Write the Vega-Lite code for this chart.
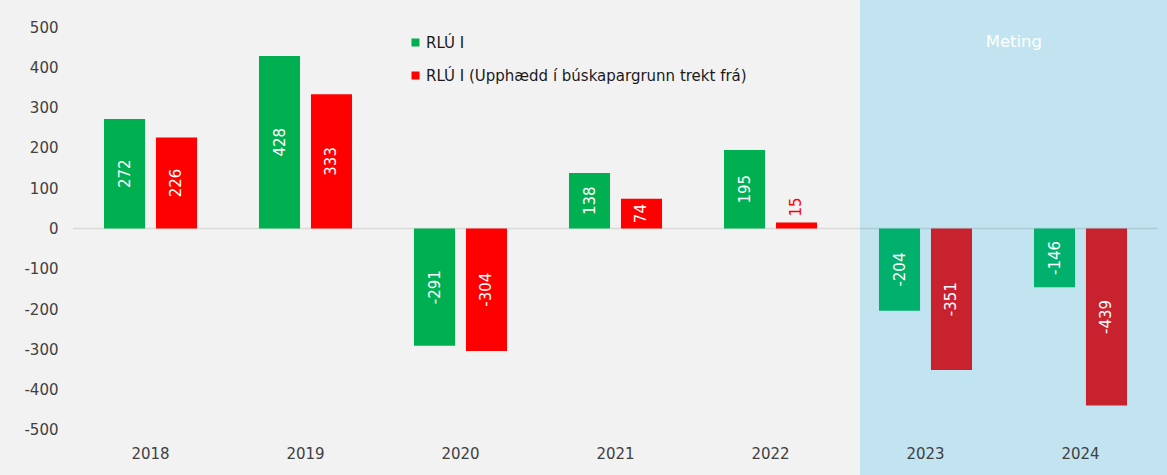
{
  "$schema": "https://vega.github.io/schema/vega-lite/v6.json",
  "width": 1094,
  "height": 475,
  "autosize": {"type": "none"},
  "padding": {"left": 73, "right": 0, "top": 0, "bottom": 0},
  "background": "#F2F2F2",
  "config": {"view": {"fill": "#F2F2F2", "stroke": null}, "font": "DejaVu Sans"},
  "datasets": {
    "bars": [
      {"year": "2018", "series": "RLÚ I", "value": 272, "period": "Raun"},
      {"year": "2018", "series": "RLÚ I (Upphædd í búskapargrunn trekt frá)", "value": 226, "period": "Raun"},
      {"year": "2019", "series": "RLÚ I", "value": 428, "period": "Raun"},
      {"year": "2019", "series": "RLÚ I (Upphædd í búskapargrunn trekt frá)", "value": 333, "period": "Raun"},
      {"year": "2020", "series": "RLÚ I", "value": -291, "period": "Raun"},
      {"year": "2020", "series": "RLÚ I (Upphædd í búskapargrunn trekt frá)", "value": -304, "period": "Raun"},
      {"year": "2021", "series": "RLÚ I", "value": 138, "period": "Raun"},
      {"year": "2021", "series": "RLÚ I (Upphædd í búskapargrunn trekt frá)", "value": 74, "period": "Raun"},
      {"year": "2022", "series": "RLÚ I", "value": 195, "period": "Raun"},
      {"year": "2022", "series": "RLÚ I (Upphædd í búskapargrunn trekt frá)", "value": 15, "period": "Raun"},
      {"year": "2023", "series": "RLÚ I", "value": -204, "period": "Meting"},
      {"year": "2023", "series": "RLÚ I (Upphædd í búskapargrunn trekt frá)", "value": -351, "period": "Meting"},
      {"year": "2024", "series": "RLÚ I", "value": -146, "period": "Meting"},
      {"year": "2024", "series": "RLÚ I (Upphædd í búskapargrunn trekt frá)", "value": -439, "period": "Meting"}
    ],
    "band": [{"s": "2023", "e": "2024", "label": "Meting", "v": 463}],
    "zero": [{"s": "2018", "e": "2024", "v": 0}]
  },
  "layer": [
    {
      "data": {"name": "band"},
      "mark": {"type": "rect", "fill": "#C1E4F0"},
      "encoding": {
        "x": {
          "field": "s", "type": "nominal", "bandPosition": 0.077,
          "scale": {"paddingInner": 0, "paddingOuter": 0.029, "align": 0},
          "axis": {"title": null, "domain": false, "ticks": false, "labelAngle": 0, "labelFontSize": 15, "labelColor": "#404040", "labelPadding": 2, "offset": -31, "labelFont": "DejaVu Sans"}
        },
        "x2": {"field": "e", "bandPosition": 1.058}
      }
    },
    {
      "data": {"name": "band"},
      "mark": {"type": "text", "color": "#FFFFFF", "fontSize": 16.5, "align": "center", "baseline": "middle"},
      "encoding": {
        "x": {"field": "e", "type": "nominal", "bandPosition": 0.07},
        "y": {"field": "v", "type": "quantitative"},
        "text": {"field": "label"}
      }
    },
    {
      "data": {"name": "zero"},
      "mark": {"type": "rule", "stroke": "#000000", "strokeOpacity": 0.1, "strokeWidth": 1.5},
      "encoding": {
        "x": {"field": "s", "type": "nominal", "bandPosition": 0},
        "x2": {"field": "e", "bandPosition": 1},
        "y": {"field": "v", "type": "quantitative"}
      }
    },
    {
      "data": {"name": "bars"},
      "transform": [{"filter": "datum.period === 'Raun'"}],
      "mark": {"type": "bar"},
      "encoding": {
        "x": {"field": "year", "type": "nominal"},
        "xOffset": {"field": "series", "type": "nominal", "scale": {"paddingInner": 0.21, "paddingOuter": 0.596}},
        "y": {
          "field": "value", "type": "quantitative",
          "scale": {"domain": [-611.7, 567], "nice": false, "zero": false},
          "axis": {"title": null, "values": [-500, -400, -300, -200, -100, 0, 100, 200, 300, 400, 500], "labelExpr": "'' + datum.value", "domain": false, "ticks": false, "grid": false, "labelFontSize": 15, "labelColor": "#404040", "labelPadding": 15, "labelFont": "DejaVu Sans"}
        },
        "color": {
          "field": "series", "type": "nominal",
          "scale": {"domain": ["RLÚ I", "RLÚ I (Upphædd í búskapargrunn trekt frá)"], "range": ["#00B050", "#FF0000"]},
          "legend": {
            "title": null, "orient": "none", "legendX": 335, "legendY": 35, "padding": 0,
            "symbolType": "square", "symbolSize": 64, "symbolStrokeWidth": 0,
            "labelFontSize": 15, "labelColor": "#1A1A1A", "labelFont": "DejaVu Sans",
            "labelOffset": 3, "rowPadding": 17, "labelLimit": 500
          }
        }
      }
    },
    {
      "data": {"name": "bars"},
      "transform": [{"filter": "datum.period === 'Meting'"}],
      "mark": {"type": "bar"},
      "encoding": {
        "x": {"field": "year", "type": "nominal"},
        "xOffset": {"field": "series", "type": "nominal"},
        "y": {"field": "value", "type": "quantitative"},
        "color": {
          "field": "series", "type": "nominal",
          "scale": {"domain": ["RLÚ I", "RLÚ I (Upphædd í búskapargrunn trekt frá)"], "range": ["#00B06C", "#C9222F"]},
          "legend": null
        }
      }
    },
    {
      "data": {"name": "bars"},
      "transform": [{"filter": "abs(datum.value) >= 30"}, {"calculate": "datum.value / 2", "as": "mid"}],
      "mark": {"type": "text", "angle": 270, "align": "center", "baseline": "middle", "fontSize": 15, "color": "#FFFFFF"},
      "encoding": {
        "x": {"field": "year", "type": "nominal"},
        "xOffset": {"field": "series", "type": "nominal"},
        "y": {"field": "mid", "type": "quantitative"},
        "text": {"field": "value", "type": "nominal"}
      }
    },
    {
      "data": {"name": "bars"},
      "transform": [{"filter": "abs(datum.value) < 30"}],
      "mark": {"type": "text", "angle": 270, "align": "left", "baseline": "middle", "fontSize": 15, "color": "#FF0000", "dx": 6},
      "encoding": {
        "x": {"field": "year", "type": "nominal"},
        "xOffset": {"field": "series", "type": "nominal"},
        "y": {"field": "value", "type": "quantitative"},
        "text": {"field": "value", "type": "nominal"}
      }
    }
  ],
  "resolve": {"scale": {"color": "independent"}}
}
